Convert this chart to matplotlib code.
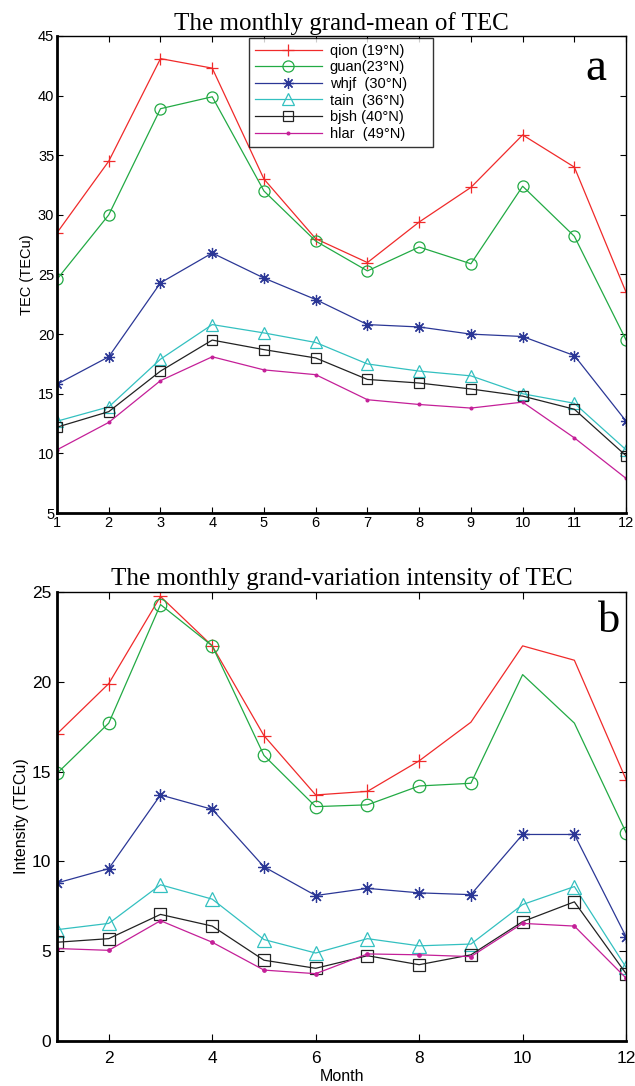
import matplotlib
matplotlib.use("Agg")
import matplotlib.pyplot as plt
import numpy as np

months = np.arange(1, 13)
labels = ["qion (19°N)", "guan(23°N)", "whjf  (30°N)", "tain  (36°N)", "bjsh (40°N)", "hlar  (49°N)"]
colors = ["#f02a2a", "#22aa44", "#2b3796", "#33c0c0", "#222222", "#c41f98"]
markers = ["+", "o", (8, 2, 0), "^", "s", "."]
msizes = [9, 8, 8, 9, 7, 4]
hollow = [False, True, False, True, True, False]

# monthly grand-mean of TEC (TECu)
mean_qion = [28.5, 34.5, 43.1, 42.3, 33.0, 28.0, 26.0, 29.4, 32.3, 36.7, 34.0, 23.5]
mean_guan = [24.6, 30.0, 38.9, 39.9, 32.0, 27.8, 25.3, 27.3, 25.9, 32.4, 28.2, 19.5]
mean_whjf = [15.8, 18.1, 24.3, 26.8, 24.7, 22.9, 20.8, 20.6, 20.0, 19.8, 18.2, 12.7]
mean_tain = [12.7, 13.9, 17.9, 20.8, 20.1, 19.3, 17.5, 16.9, 16.5, 15.0, 14.2, 10.3]
mean_bjsh = [12.2, 13.5, 16.9, 19.5, 18.7, 18.0, 16.2, 15.9, 15.4, 14.8, 13.7, 9.8]
mean_hlar = [10.3, 12.6, 16.1, 18.1, 17.0, 16.6, 14.5, 14.1, 13.8, 14.3, 11.3, 7.9]

# monthly grand-variation intensity (TECu)
var_qion = [17.1, 19.9, 24.75, 22.0, 17.0, 13.7, 13.9, 15.6, 17.75, 22.0, 21.2, 14.55]
var_guan = [14.9, 17.7, 24.3, 22.0, 15.9, 13.05, 13.15, 14.2, 14.35, 20.4, 17.7, 11.6]
var_whjf = [8.8, 9.6, 13.7, 12.9, 9.7, 8.1, 8.5, 8.25, 8.15, 11.5, 11.5, 5.8]
var_tain = [6.2, 6.55, 8.7, 7.9, 5.65, 4.9, 5.7, 5.3, 5.4, 7.6, 8.6, 4.1]
var_bjsh = [5.5, 5.7, 7.05, 6.4, 4.5, 4.05, 4.75, 4.25, 4.8, 6.65, 7.75, 3.75]
var_hlar = [5.15, 5.05, 6.7, 5.5, 3.95, 3.75, 4.85, 4.8, 4.7, 6.55, 6.4, 3.5]

mean_data = [mean_qion, mean_guan, mean_whjf, mean_tain, mean_bjsh, mean_hlar]
var_data = [var_qion, var_guan, var_whjf, var_tain, var_bjsh, var_hlar]
# markers missing at some months in panel b
var_markevery = [[0, 1, 2, 3, 4, 5, 6, 7, 11], [0, 1, 2, 3, 4, 5, 6, 7, 8, 11],
                 None, None, None, None]

sans = "Liberation Sans"
serif = "Liberation Serif"
plt.rcParams["font.family"] = sans

fig = plt.figure(figsize=(6.35, 10.86), dpi=100)
ax1 = fig.add_axes([0.0898, 0.5276, 0.8962, 0.4393])
ax2 = fig.add_axes([0.0898, 0.0414, 0.8962, 0.4135])

for i in range(6):
    face = "none" if hollow[i] else colors[i]
    ax1.plot(months, mean_data[i], color=colors[i], marker=markers[i], lw=0.9,
             markersize=msizes[i], markerfacecolor=face, markeredgewidth=0.9, label=labels[i])
    ax2.plot(months, var_data[i], color=colors[i], marker=markers[i], lw=0.9,
             markersize=msizes[i] + 1, markevery=var_markevery[i],
             markerfacecolor=face, markeredgewidth=0.9)

ax1.set_xlim(1, 12)
ax1.set_ylim(5, 45)
ax1.set_xticks(months)
ax1.set_yticks(np.arange(5, 46, 5))
ax1.tick_params(direction="in", top=True, right=True, labelsize=10.5, length=4, pad=2)
ax1.set_ylabel("TEC (TECu)", fontsize=10.5, labelpad=3)
ax1.set_title("The monthly grand-mean of TEC", fontfamily=serif, fontsize=18, pad=4)
ax1.text(0.965, 0.975, "a", transform=ax1.transAxes, ha="right", va="top",
         fontfamily=serif, fontsize=34)
leg = ax1.legend(loc="upper left", bbox_to_anchor=(0.337, 0.5, 0.3234, 0.496), mode="expand",
                 borderaxespad=0, fontsize=10.5, frameon=True, fancybox=False, edgecolor="black",
                 handlelength=4.6, borderpad=0.4, labelspacing=0.18, handletextpad=0.55)
leg.get_frame().set_linewidth(1.0)

ax2.set_xlim(1, 12)
ax2.set_ylim(0, 25)
ax2.set_xticks(np.arange(2, 13, 2))
ax2.set_yticks(np.arange(0, 26, 5))
ax2.tick_params(direction="in", top=True, right=True, labelsize=12.5, length=5, pad=7)
ax2.set_xlabel("Month", fontsize=11.5, labelpad=2)
ax2.set_ylabel("Intensity (TECu)", fontsize=11.5, labelpad=2)
ax2.tick_params(axis="y", pad=4)
ax2.set_title("The monthly grand-variation intensity of TEC", fontfamily=serif, fontsize=18, pad=5)
ax2.text(0.99, 0.98, "b", transform=ax2.transAxes, ha="right", va="top",
         fontfamily=serif, fontsize=32)

for ax in (ax1, ax2):
    for s in ax.spines.values():
        s.set_linewidth(1.0)
    ax.spines["left"].set_linewidth(2.0)
    ax.spines["bottom"].set_linewidth(2.0)

fig.savefig("out.png", dpi=100)
